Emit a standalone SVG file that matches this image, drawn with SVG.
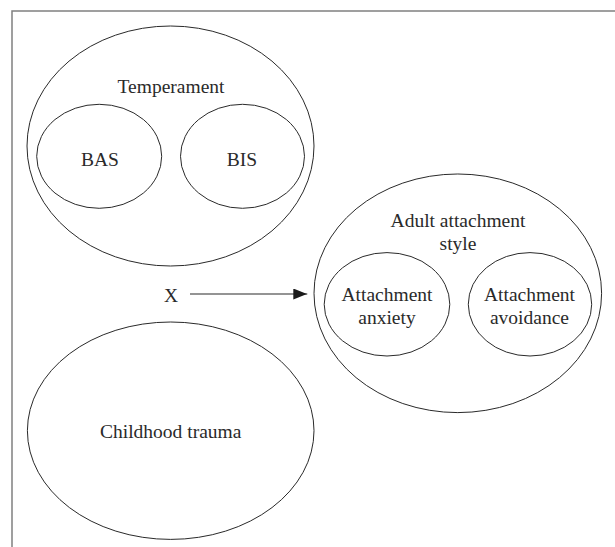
<svg xmlns="http://www.w3.org/2000/svg" width="615" height="547" viewBox="0 0 615 547">
  <defs>
    <style>
      .frame { fill: none; stroke: #808080; stroke-width: 1.5; }
      .node ellipse { fill: none; stroke: #2a2a2a; stroke-width: 1; }
      text { font-family: 'Liberation Serif', 'DejaVu Serif', 'Times New Roman', serif; font-size: 19.5px; fill: #2a2a2a; text-anchor: middle; }
      .conn line { stroke: #2a2a2a; stroke-width: 1.2; }
    </style>
    <marker id="arrow" markerWidth="14" markerHeight="11" refX="14" refY="5.5" orient="auto" markerUnits="userSpaceOnUse">
      <path d="M0,0 L14,5.5 L0,11 Z" fill="#1a1a1a"/>
    </marker>
  </defs>
  <rect width="615" height="547" fill="#ffffff"/>
  <path class="frame" d="M12,547 L12,11 L615,11"/>

  <g id="temperament" class="node">
    <ellipse cx="170.5" cy="146" rx="143.5" ry="120"/>
    <text x="171" y="92.7" font-family="Liberation Serif, serif">Temperament</text>
  </g>
  <g id="bas" class="node">
    <ellipse cx="99.2" cy="156.3" rx="62.5" ry="52"/>
    <text x="100" y="166" font-family="Liberation Serif, serif">BAS</text>
  </g>
  <g id="bis" class="node">
    <ellipse cx="242.5" cy="156.3" rx="62" ry="52"/>
    <text x="242" y="166" font-family="Liberation Serif, serif">BIS</text>
  </g>
  <g id="x" class="node">
    <text x="171" y="302.3" font-family="Liberation Serif, serif">X</text>
  </g>
  <g id="adult-attachment-style" class="node">
    <ellipse cx="457.8" cy="293.3" rx="143.8" ry="119.3"/>
    <text x="458" y="226.7" font-family="Liberation Serif, serif">Adult attachment</text>
    <text x="458" y="250" font-family="Liberation Serif, serif">style</text>
  </g>
  <g id="attachment-anxiety" class="node">
    <ellipse cx="387" cy="304.3" rx="62.8" ry="51.7"/>
    <text x="387" y="300.7" font-family="Liberation Serif, serif">Attachment</text>
    <text x="387" y="324" font-family="Liberation Serif, serif">anxiety</text>
  </g>
  <g id="attachment-avoidance" class="node">
    <ellipse cx="530" cy="304.3" rx="61.7" ry="51.7"/>
    <text x="529.5" y="300.7" font-family="Liberation Serif, serif">Attachment</text>
    <text x="529.5" y="324" font-family="Liberation Serif, serif">avoidance</text>
  </g>
  <g id="childhood-trauma" class="node">
    <ellipse cx="170.7" cy="430.7" rx="143.3" ry="108.7"/>
    <text x="170.7" y="438.3" font-family="Liberation Serif, serif">Childhood trauma</text>
  </g>

  <g id="connectors" class="conn">
    <line x1="190" y1="294" x2="307.3" y2="294" marker-end="url(#arrow)"/>
  </g>
</svg>
